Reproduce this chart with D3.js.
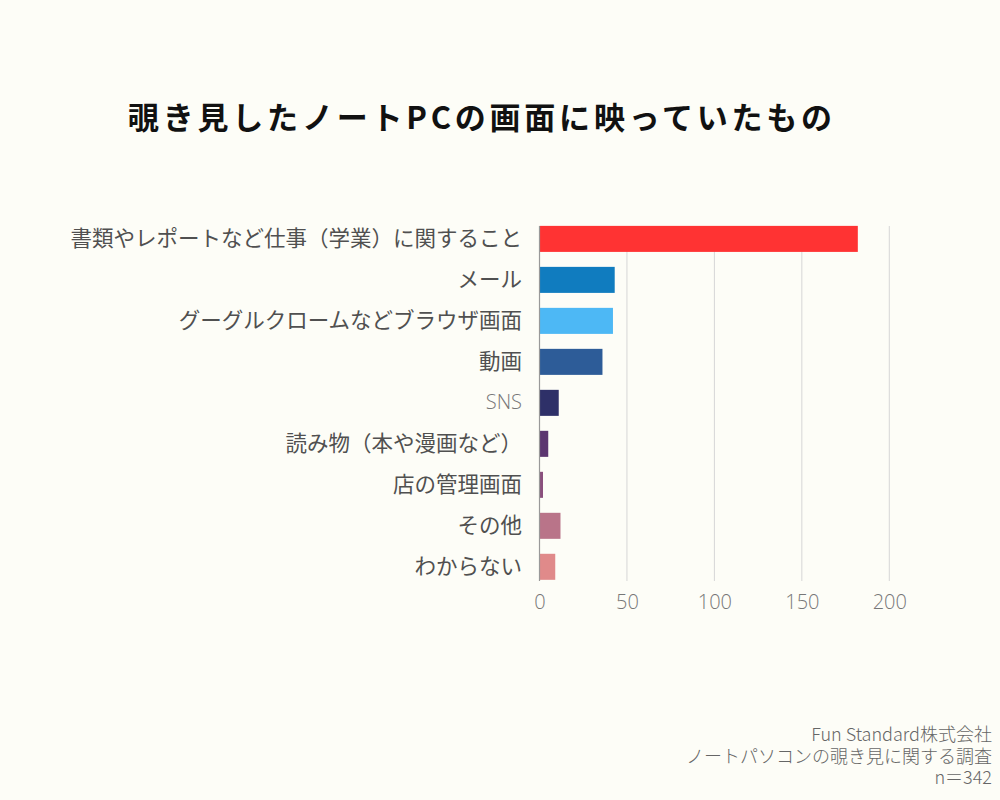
<!DOCTYPE html>
<meta charset="utf-8">
<style>
    body { margin: 0; background: #fdfdf7; }
    svg { display: block; }
    .cat text { font-family: "Noto Sans CJK JP", sans-serif; font-size: 21.5px; fill: #505050; }
    .xaxis text { font-family: "Open Sans", sans-serif; font-weight: 300; font-size: 20px; fill: #777; }
    .note { font-family: "Noto Sans CJK JP", sans-serif; font-weight: 300; font-size: 18px; fill: #666; }
</style>
<svg id="chart" width="1000" height="800"></svg>
<script src="https://cdn.jsdelivr.net/npm/d3@7"></script>
<script>
    const categories = [
        "書類やレポートなど仕事（学業）に関すること",
        "メール",
        "グーグルクロームなどブラウザ画面",
        "動画",
        "SNS",
        "読み物（本や漫画など）",
        "店の管理画面",
        "その他",
        "わからない"
    ];
    const values = [182, 43, 42, 36, 11, 5, 2, 12, 9];
    const colors = ["#ff3333", "#107cbf", "#4db8f5", "#2d5c98", "#2e3068",
                    "#5c3570", "#8a4f7d", "#b97489", "#e08a8a"];
    const ticks = [0, 50, 100, 150, 200];
    const title = "覗き見したノートPCの画面に映っていたもの";
    const notes = ["Fun Standard株式会社", "ノートパソコンの覗き見に関する調査", "n＝342"];

    const svg = d3.select("#chart");
    svg.append("rect").attr("width", 1000).attr("height", 800).attr("fill", "#fdfdf7");

    const x = d3.scaleLinear().domain([0, 200]).range([539.5, 889.3]);
    const y = d3.scaleBand().domain(categories).range([218.5, 587.2]).paddingInner(0.365).paddingOuter(0.18);

    // grid
    svg.append("g").selectAll("line")
        .data(ticks.slice(1))
        .join("line")
        .attr("x1", d => x(d)).attr("x2", d => x(d))
        .attr("y1", 226).attr("y2", 581)
        .attr("stroke", "#d6d6d6").attr("stroke-width", 1);

    svg.append("g").selectAll("rect")
        .data(values)
        .join("rect")
        .attr("x", x(0))
        .attr("y", (d, i) => y(categories[i]))
        .attr("width", d => x(d) - x(0))
        .attr("height", y.bandwidth())
        .attr("fill", (d, i) => colors[i]);

    // zero line
    svg.append("line")
        .attr("x1", x(0)).attr("x2", x(0))
        .attr("y1", 226).attr("y2", 581)
        .attr("stroke", "#999").attr("stroke-width", 1.2);

    const xAxis = svg.append("g").attr("class", "xaxis")
        .attr("transform", "translate(0,590)")
        .call(d3.axisBottom(x).tickValues(ticks).tickSize(0).tickPadding(5));
    xAxis.select(".domain").remove();

    const cat = svg.append("g").attr("class", "cat")
        .attr("transform", "translate(522,0)")
        .call(d3.axisLeft(y).tickSize(0).tickPadding(0));
    cat.select(".domain").remove();
    cat.selectAll("text").filter(d => d === "SNS")
        .style("font-family", "'Open Sans', sans-serif").style("font-weight", 300)
        .style("font-size", "20px").style("fill", "#777");

    svg.append("text")
        .attr("x", 128).attr("y", 129)
        .attr("textLength", 704).attr("lengthAdjust", "spacing")
        .style("font-family", "'Noto Sans CJK JP', sans-serif")
        .style("font-weight", 700).style("font-size", "31px").style("fill", "#111")
        .text(title);

    svg.append("g").selectAll("text")
        .data(notes)
        .join("text")
        .attr("class", "note")
        .attr("x", 992).attr("y", (d, i) => 741 + i * 21.5)
        .attr("text-anchor", "end")
        .text(d => d);
</script>
